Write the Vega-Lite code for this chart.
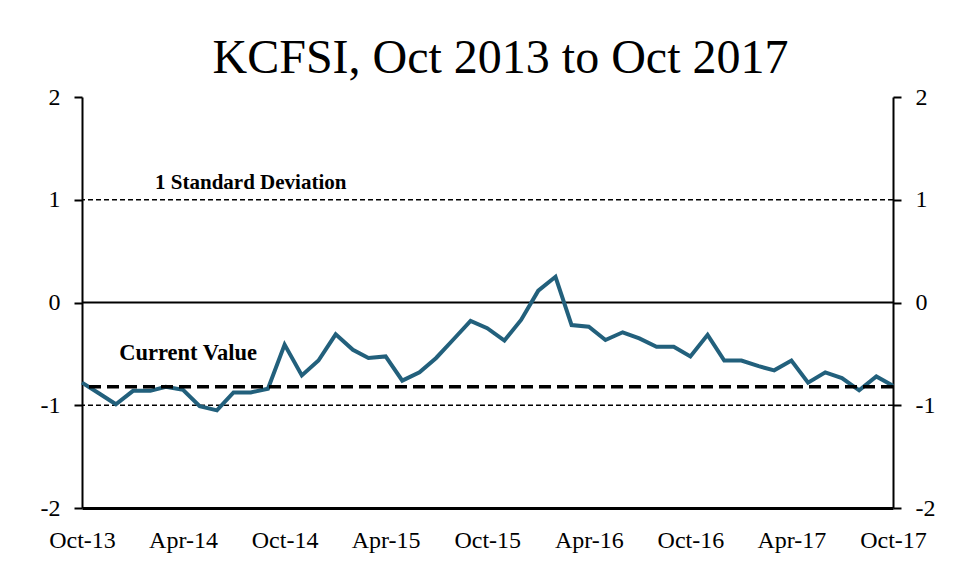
{
  "$schema": "https://vega.github.io/schema/vega-lite/v6.json",
  "width": 811,
  "height": 411,
  "autosize": {"type": "none"},
  "padding": {"left": 82, "top": 97, "right": 62, "bottom": 72},
  "background": "white",
  "config": {
    "view": {"stroke": null},
    "font": "Liberation Serif",
    "axis": {
      "labelFont": "Liberation Serif",
      "labelFontSize": 24,
      "labelColor": "black",
      "domainColor": "black",
      "tickColor": "black",
      "grid": false,
      "title": null
    }
  },
  "title": {
    "text": "KCFSI, Oct 2013 to Oct 2017",
    "font": "Liberation Serif",
    "fontSize": 48,
    "fontWeight": "normal",
    "color": "black",
    "anchor": "middle",
    "dx": 13,
    "offset": 2
  },
  "datasets": {
    "kcfsi": [
      {"date": "2013-10-01", "value": -0.78},
      {"date": "2013-11-01", "value": -0.885},
      {"date": "2013-12-01", "value": -0.99},
      {"date": "2014-01-01", "value": -0.86},
      {"date": "2014-02-01", "value": -0.86},
      {"date": "2014-03-01", "value": -0.82},
      {"date": "2014-04-01", "value": -0.85},
      {"date": "2014-05-01", "value": -1.01},
      {"date": "2014-06-01", "value": -1.05},
      {"date": "2014-07-01", "value": -0.875},
      {"date": "2014-08-01", "value": -0.875},
      {"date": "2014-09-01", "value": -0.84},
      {"date": "2014-10-01", "value": -0.41},
      {"date": "2014-11-01", "value": -0.71},
      {"date": "2014-12-01", "value": -0.565},
      {"date": "2015-01-01", "value": -0.31},
      {"date": "2015-02-01", "value": -0.46},
      {"date": "2015-03-01", "value": -0.54},
      {"date": "2015-04-01", "value": -0.525},
      {"date": "2015-05-01", "value": -0.76},
      {"date": "2015-06-01", "value": -0.68},
      {"date": "2015-07-01", "value": -0.54},
      {"date": "2015-08-01", "value": -0.36},
      {"date": "2015-09-01", "value": -0.18},
      {"date": "2015-10-01", "value": -0.25},
      {"date": "2015-11-01", "value": -0.37},
      {"date": "2015-12-01", "value": -0.17},
      {"date": "2016-01-01", "value": 0.115},
      {"date": "2016-02-01", "value": 0.25},
      {"date": "2016-03-01", "value": -0.22},
      {"date": "2016-04-01", "value": -0.235},
      {"date": "2016-05-01", "value": -0.365},
      {"date": "2016-06-01", "value": -0.29},
      {"date": "2016-07-01", "value": -0.35},
      {"date": "2016-08-01", "value": -0.43},
      {"date": "2016-09-01", "value": -0.43},
      {"date": "2016-10-01", "value": -0.525},
      {"date": "2016-11-01", "value": -0.315},
      {"date": "2016-12-01", "value": -0.565},
      {"date": "2017-01-01", "value": -0.565},
      {"date": "2017-02-01", "value": -0.62},
      {"date": "2017-03-01", "value": -0.66},
      {"date": "2017-04-01", "value": -0.565},
      {"date": "2017-05-01", "value": -0.78},
      {"date": "2017-06-01", "value": -0.68},
      {"date": "2017-07-01", "value": -0.735},
      {"date": "2017-08-01", "value": -0.855},
      {"date": "2017-09-01", "value": -0.72},
      {"date": "2017-10-01", "value": -0.81}
    ],
    "refs": [
      {"level": 1, "kind": "sd"},
      {"level": -1, "kind": "sd"}
    ],
    "zero": [{"level": 0}],
    "current": [{"level": -0.82}],
    "sdlabel": [{"label": "1 Standard Deviation", "date": "2014-08-01", "level": 1}],
    "cvlabel": [{"label": "Current Value", "date": "2014-04-10", "level": -0.82}]
  },
  "resolve": {"scale": {"y": "independent"}, "axis": {"y": "independent"}},
  "layer": [
    {
      "layer": [
        {
          "data": {"name": "zero"},
          "mark": {"type": "rule", "color": "black", "strokeWidth": 2},
          "encoding": {
            "y": {"field": "level", "type": "quantitative", "scale": {"domain": [-2, 2]}}
          }
        },
        {
          "data": {"name": "refs"},
          "mark": {"type": "rule", "color": "black", "strokeWidth": 1.5, "strokeDash": [5, 3]},
          "encoding": {
            "y": {"field": "level", "type": "quantitative"}
          }
        },
        {
          "data": {"name": "kcfsi"},
          "mark": {"type": "line", "color": "#22607c", "strokeWidth": 4, "strokeJoin": "miter"},
          "encoding": {
            "x": {
              "field": "date",
              "type": "temporal",
              "scale": {"type": "utc", "domain": [{"year": 2013, "month": "oct", "date": 1, "utc": true}, {"year": 2017, "month": "oct", "date": 1, "utc": true}]},
              "axis": {
                "values": [
                  {"year": 2013, "month": "oct", "date": 1, "utc": true},
                  {"year": 2014, "month": "apr", "date": 1, "utc": true},
                  {"year": 2014, "month": "oct", "date": 1, "utc": true},
                  {"year": 2015, "month": "apr", "date": 1, "utc": true},
                  {"year": 2015, "month": "oct", "date": 1, "utc": true},
                  {"year": 2016, "month": "apr", "date": 1, "utc": true},
                  {"year": 2016, "month": "oct", "date": 1, "utc": true},
                  {"year": 2017, "month": "apr", "date": 1, "utc": true},
                  {"year": 2017, "month": "oct", "date": 1, "utc": true}
                ],
                "labelExpr": "utcFormat(datum.value, '%b-%y')",
                "domainWidth": 3,
                "ticks": false,
                "labelPadding": 20,
                "labelFlush": false,
                "labelOverlap": false
              }
            },
            "y": {
              "field": "value",
              "type": "quantitative",
              "scale": {"domain": [-2, 2]},
              "axis": {
                "orient": "left",
                "values": [-2, -1, 0, 1, 2],
                "labelExpr": "datum.value < 0 ? '-' + abs(datum.value) : '' + datum.value",
                "domainWidth": 2,
                "tickSize": 8,
                "tickWidth": 2,
                "labelPadding": 14
              }
            }
          }
        },
        {
          "data": {"name": "current"},
          "mark": {"type": "rule", "color": "black", "strokeWidth": 3.5, "strokeDash": [12, 6]},
          "encoding": {
            "y": {"field": "level", "type": "quantitative"}
          }
        },
        {
          "data": {"name": "sdlabel"},
          "mark": {"type": "text", "font": "Liberation Serif", "fontSize": 21, "fontWeight": "bold", "align": "center", "baseline": "alphabetic", "dy": -11, "color": "black"},
          "encoding": {
            "x": {"field": "date", "type": "temporal"},
            "y": {"field": "level", "type": "quantitative"},
            "text": {"field": "label"}
          }
        },
        {
          "data": {"name": "cvlabel"},
          "mark": {"type": "text", "font": "Liberation Serif", "fontSize": 22.5, "fontWeight": "bold", "align": "center", "baseline": "alphabetic", "dy": -27, "color": "black"},
          "encoding": {
            "x": {"field": "date", "type": "temporal"},
            "y": {"field": "level", "type": "quantitative"},
            "text": {"field": "label"}
          }
        }
      ]
    },
    {
      "data": {"name": "refs"},
      "mark": {"type": "rule", "opacity": 0},
      "encoding": {
        "y": {
          "field": "level",
          "type": "quantitative",
          "scale": {"domain": [-2, 2]},
          "axis": {
            "orient": "right",
            "values": [-2, -1, 0, 1, 2],
            "labelExpr": "datum.value < 0 ? '-' + abs(datum.value) : '' + datum.value",
            "domainWidth": 2,
            "tickSize": 8,
            "tickWidth": 2,
            "labelPadding": 14
          }
        }
      }
    }
  ]
}
